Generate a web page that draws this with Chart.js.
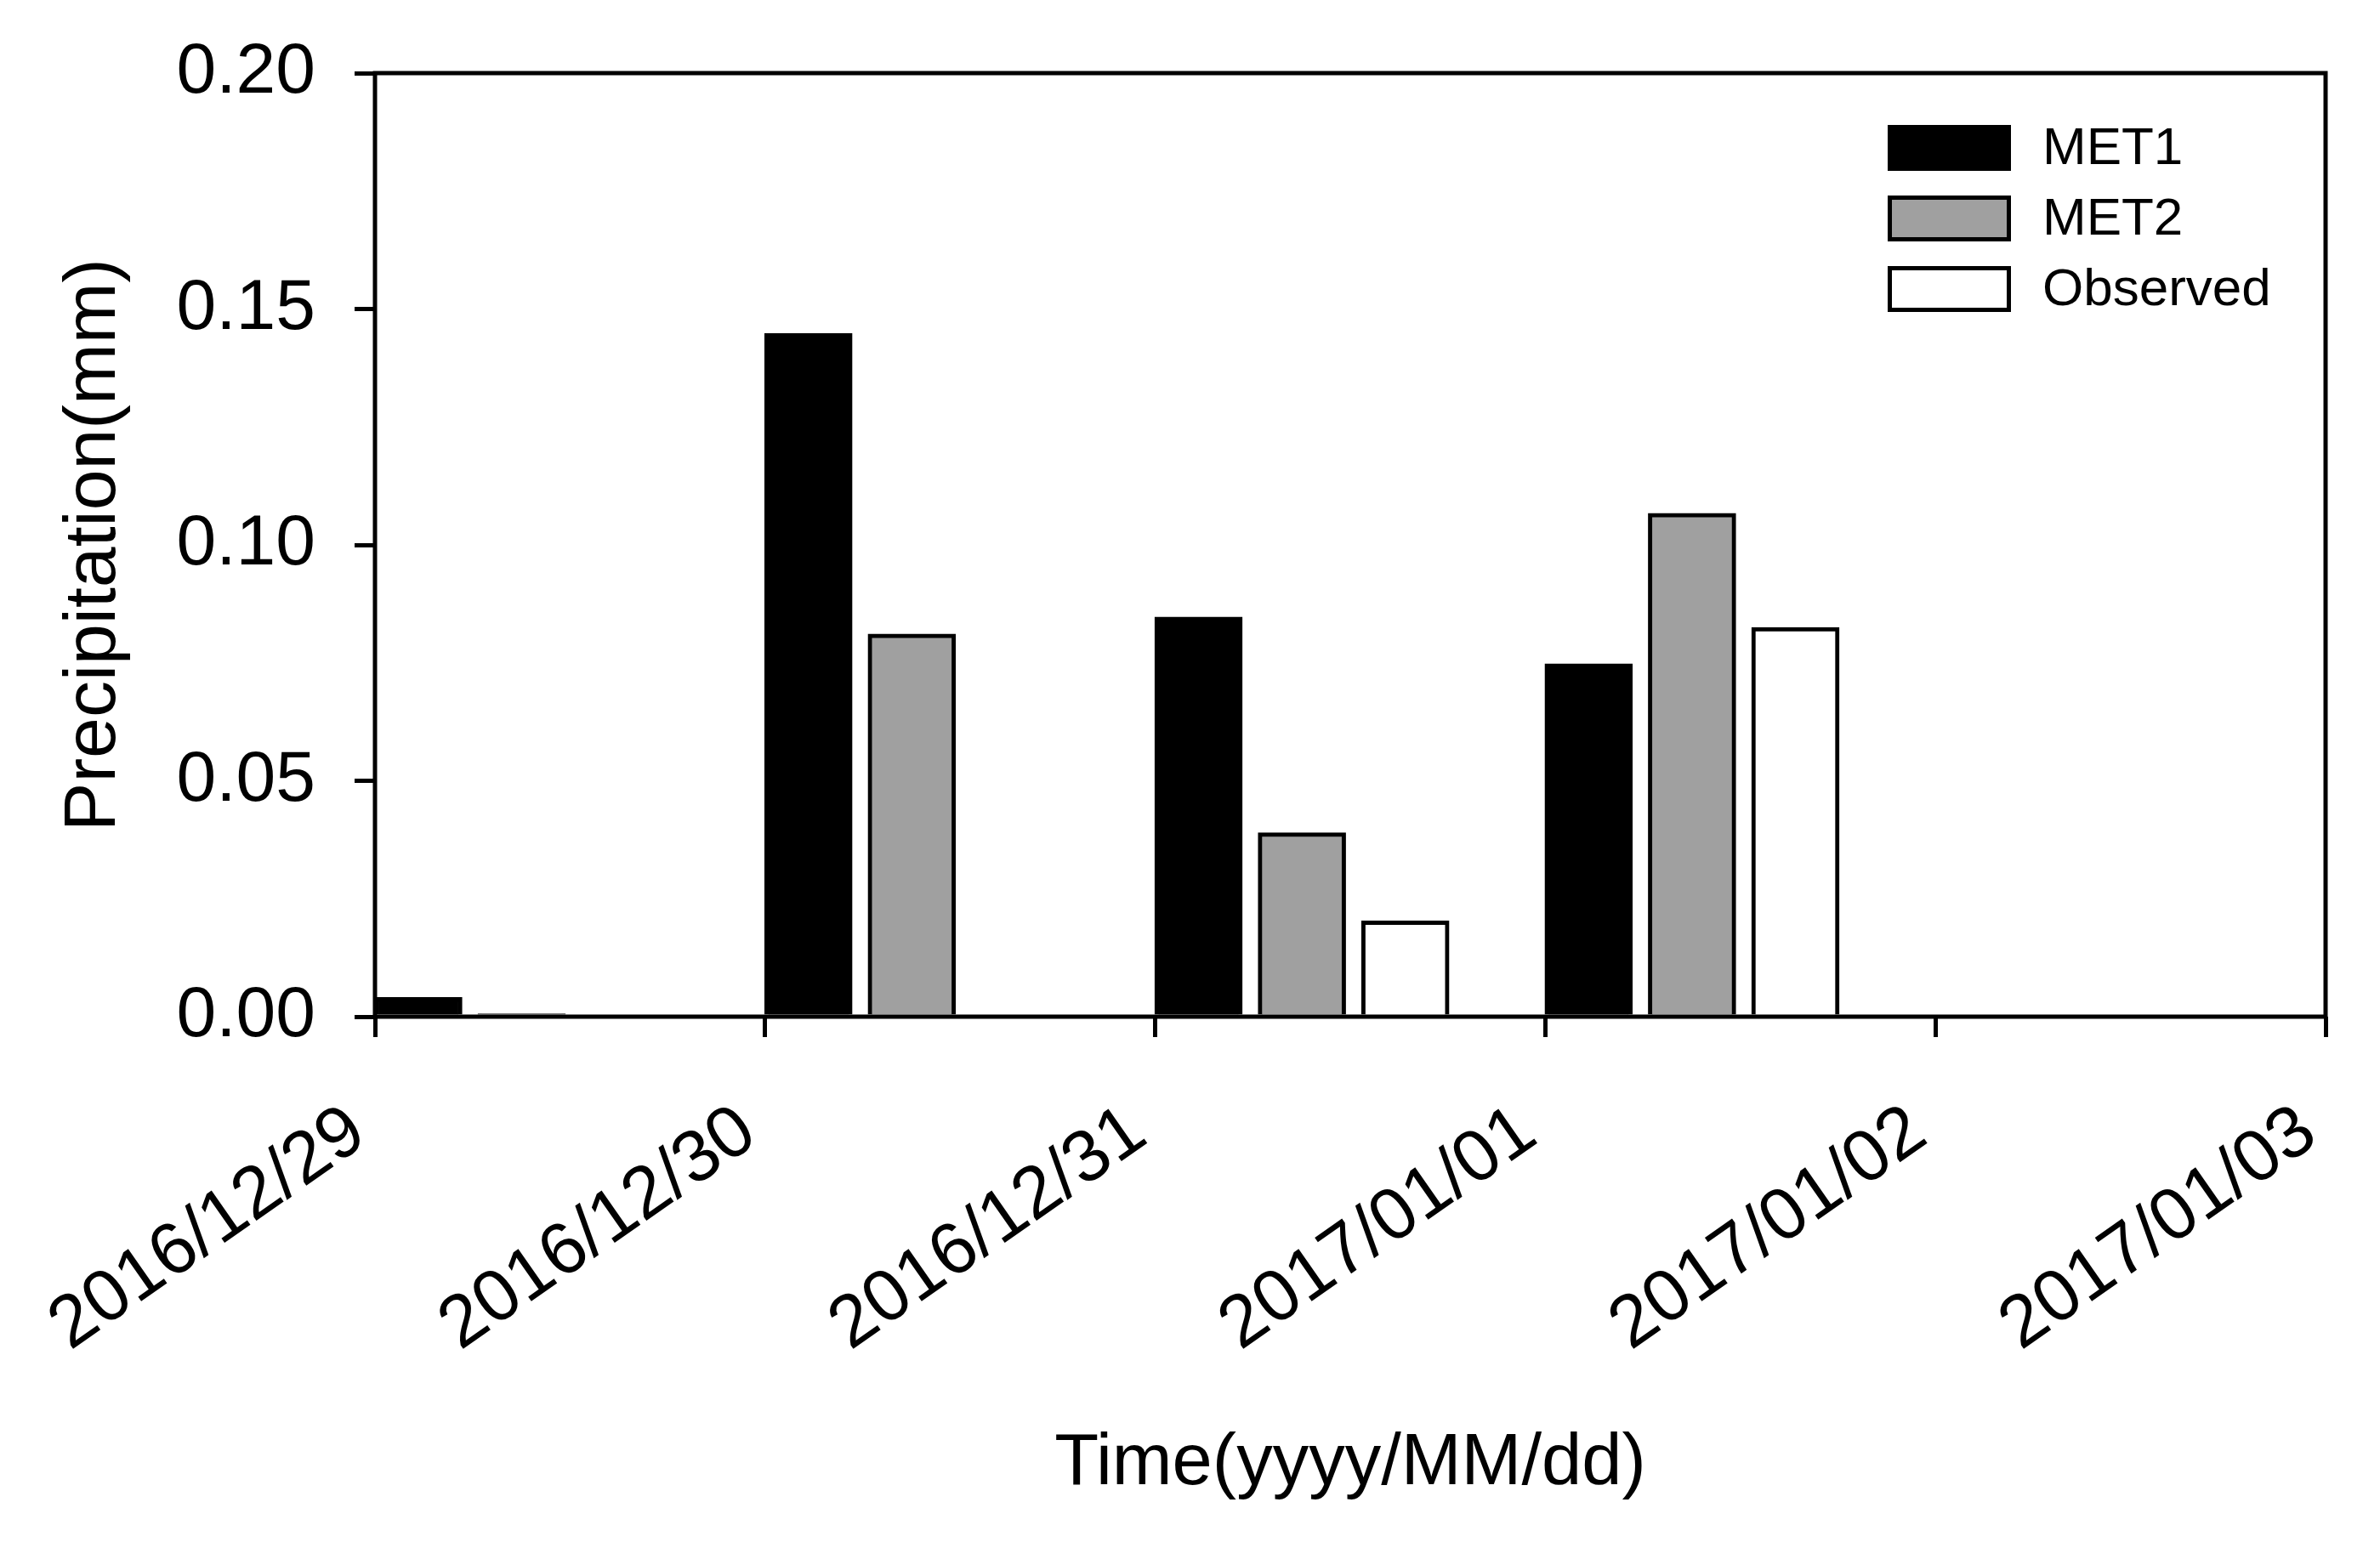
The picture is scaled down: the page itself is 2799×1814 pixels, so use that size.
<!DOCTYPE html>
<html>
<head>
<meta charset="utf-8">
<script src="https://cdn.jsdelivr.net/npm/chart.js@4"></script>
<style>
  html, body { margin: 0; padding: 0; background: #fff; }
  #wrap { width: 2799px; height: 1814px; }
</style>
</head>
<body>
<div id="wrap"><canvas id="chart" width="2799" height="1814"></canvas></div>
<script>
// tick labels on the x axis (day boundaries)
const dates = ['2016/12/29', '2016/12/30', '2016/12/31', '2017/01/01', '2017/01/02', '2017/01/03'];
const seriesNames = ['MET1', 'MET2', 'Observed'];

// daily precipitation (mm), one value per day starting at 2016/12/29
const met1 = [0.0041, 0.1448, 0.0847, 0.0748, null];
const met2 = [0.0006, 0.0811, 0.0390, 0.1067, null];
const observed = [null, null, 0.0203, 0.0825, null];

const yMin = 0, yMax = 0.20, yStep = 0.05;

const FONT = "'Liberation Sans', Arial, sans-serif";

// each day holds three bars side by side, starting just after the day tick
const slotStart = 0.111;
const slotStep = 0.265;
function toPoints(values, slot) {
    return values.map((v, i) => ({ x: i + slotStart + slot * slotStep, y: v }));
}

const frame = {
    id: 'frame',
    afterDraw(chart) {
        const { ctx, chartArea } = chart;
        ctx.save();
        ctx.strokeStyle = '#000';
        ctx.lineWidth = 5;
        ctx.strokeRect(chartArea.left, chartArea.top, chartArea.right - chartArea.left, chartArea.bottom - chartArea.top);
        ctx.restore();
    }
};

// legend box in the upper right corner of the plot
const boxLegend = {
    id: 'boxLegend',
    afterDraw(chart) {
        const { ctx, chartArea } = chart;
        const left = chartArea.right - 515;
        const firstRow = chartArea.top + 88;
        ctx.save();
        ctx.font = '62px ' + FONT;
        ctx.textBaseline = 'middle';
        ctx.textAlign = 'left';
        chart.data.datasets.forEach((ds, i) => {
            const cy = firstRow + i * 83;
            ctx.fillStyle = ds.backgroundColor;
            ctx.fillRect(left, cy - 27, 145, 54);
            ctx.strokeStyle = '#000';
            ctx.lineWidth = 5;
            ctx.strokeRect(left + 2.5, cy - 24.5, 140, 49);
            ctx.fillStyle = '#000';
            ctx.fillText(ds.label, left + 182, cy + 2);
        });
        ctx.restore();
    }
};

// keep the plot frame where the padding puts it
function noEdgePadding(scale) {
    scale.paddingTop = 0;
    scale.paddingBottom = 0;
    scale.paddingLeft = 0;
    scale.paddingRight = 0;
}

new Chart(document.getElementById('chart'), {
    type: 'bar',
    data: {
        datasets: [
            { label: seriesNames[0], data: toPoints(met1, 0), backgroundColor: '#000000' },
            { label: seriesNames[1], data: toPoints(met2, 1), backgroundColor: '#a0a0a0' },
            { label: seriesNames[2], data: toPoints(observed, 2), backgroundColor: '#ffffff' }
        ]
    },
    options: {
        responsive: false,
        devicePixelRatio: 1,
        animation: false,
        layout: { padding: { top: 86, right: 64, left: 0, bottom: 0 } },
        datasets: {
            bar: {
                grouped: false,
                barThickness: 103,
                borderColor: '#000',
                borderWidth: 5,
                borderSkipped: 'start',
                skipNull: true
            }
        },
        plugins: {
            legend: { display: false },
            tooltip: { enabled: false }
        },
        scales: {
            x: {
                type: 'linear',
                min: 0,
                max: dates.length - 1,
                offset: false,
                afterFit(scale) {
                    scale.height = 618;
                    noEdgePadding(scale);
                },
                border: { display: false },
                grid: {
                    offset: false,
                    drawOnChartArea: false,
                    drawTicks: true,
                    tickLength: 24,
                    tickWidth: 5,
                    tickColor: '#000',
                    color: '#000',
                    lineWidth: 5
                },
                ticks: {
                    stepSize: 1,
                    autoSkip: false,
                    minRotation: 35,
                    maxRotation: 35,
                    padding: 47,
                    color: '#000',
                    font: { family: FONT, size: 86 },
                    callback: (v) => dates[v] + ' '
                },
                title: {
                    display: true,
                    text: 'Time(yyyy/MM/dd)',
                    color: '#000',
                    font: { family: FONT, size: 85 },
                    padding: { top: 0, bottom: 40 }
                }
            },
            y: {
                min: yMin,
                max: yMax,
                afterFit(scale) {
                    scale.width = 441;
                    noEdgePadding(scale);
                },
                border: { display: false },
                grid: {
                    drawOnChartArea: false,
                    drawTicks: true,
                    tickLength: 24,
                    tickWidth: 5,
                    tickColor: '#000',
                    color: '#000',
                    lineWidth: 5
                },
                ticks: {
                    stepSize: yStep,
                    padding: 46,
                    color: '#000',
                    font: { family: FONT, size: 84 },
                    callback: (v) => v.toFixed(2)
                },
                title: {
                    display: true,
                    text: 'Precipitation(mm)',
                    color: '#000',
                    font: { family: FONT, size: 86 },
                    padding: { top: 60, bottom: 0 }
                }
            }
        }
    },
    plugins: [frame, boxLegend]
});
</script>
</body>
</html>
